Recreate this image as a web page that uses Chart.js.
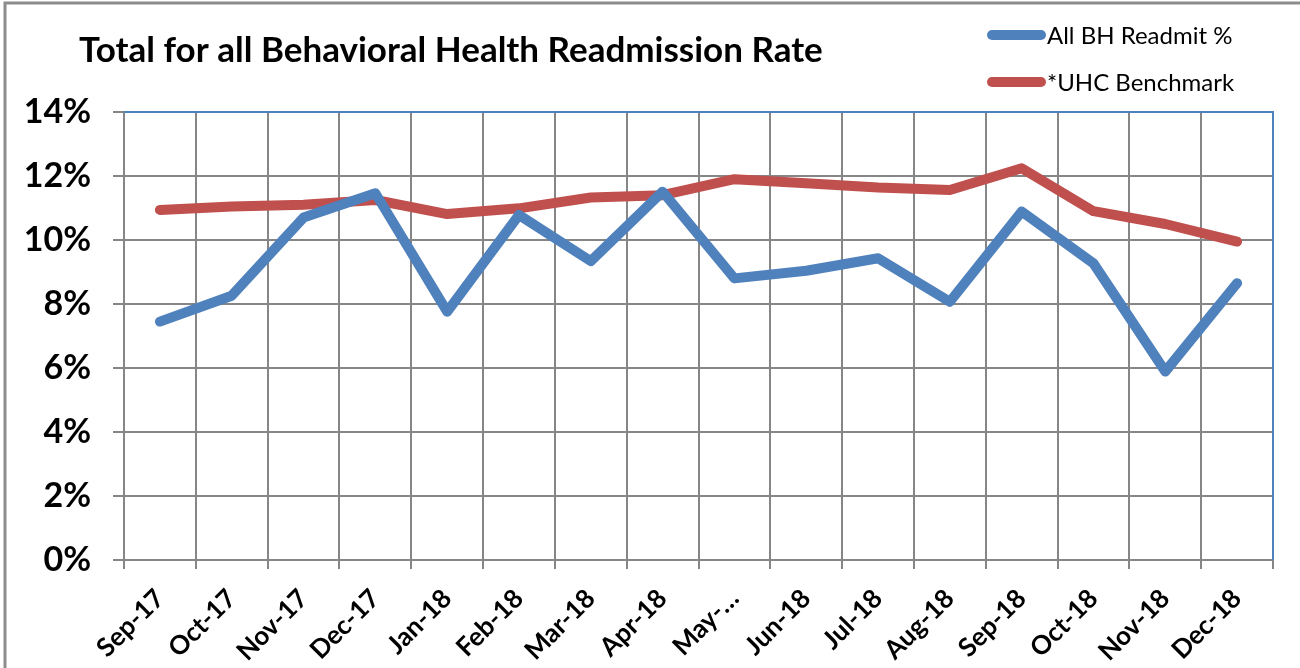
<!DOCTYPE html>
<html>
<head>
<meta charset="utf-8">
<title>Total for all Behavioral Health Readmission Rate</title>
<script src="https://cdn.jsdelivr.net/npm/chart.js@4.4.1/dist/chart.umd.min.js"></script>
<style>
  html, body { margin: 0; padding: 0; background: #ffffff; }
  #wrap { width: 1300px; height: 668px; position: relative; }
</style>
</head>
<body>
<div id="wrap"><canvas id="lineChart" width="1300" height="668"></canvas></div>
<script>
// datos
const meses = ['Sep-17', 'Oct-17', 'Nov-17', 'Dec-17', 'Jan-18', 'Feb-18', 'Mar-18', 'Apr-18',
               'May-…', 'Jun-18', 'Jul-18', 'Aug-18', 'Sep-18', 'Oct-18', 'Nov-18', 'Dec-18'];
const readmitBH = [7.45, 8.26, 10.7, 11.46, 7.76, 10.78, 9.34, 11.51,
                   8.8, 9.04, 9.43, 8.07, 10.89, 9.27, 5.89, 8.65];
const benchmarkUHC = [10.94, 11.05, 11.1, 11.25, 10.81, 10.99, 11.33, 11.4,
                      11.9, 11.77, 11.64, 11.56, 12.24, 10.9, 10.5, 9.95];
const ticksY = [0, 2, 4, 6, 8, 10, 12, 14];

const titulo = 'Total for all Behavioral Health Readmission Rate';
const azul = '#4f81bd';
const rojo = '#c0504d';
const gris = '#868686';

// plugin para titulo, leyenda y bordes (estilo Excel)
const decoracion = {
    id: 'decoracion',
    afterDraw(chart) {
        const ctx = chart.ctx;
        const area = chart.chartArea;
        ctx.save();

        // borde del plot (arriba y derecha en azul)
        ctx.strokeStyle = azul;
        ctx.lineWidth = 2;
        ctx.beginPath();
        ctx.moveTo(area.left, area.top);
        ctx.lineTo(area.right, area.top);
        ctx.lineTo(area.right, area.bottom);
        ctx.stroke();

        // borde exterior
        ctx.strokeStyle = '#8c8c8c';
        ctx.lineWidth = 3;
        ctx.beginPath();
        ctx.moveTo(5, 668);
        ctx.lineTo(5, 3);
        ctx.lineTo(1300, 3);
        ctx.stroke();

        // titulo
        ctx.fillStyle = '#000000';
        ctx.font = 'bold 35px Lato';
        ctx.textAlign = 'left';
        ctx.textBaseline = 'alphabetic';
        ctx.fillText(titulo, 79, 62);

        // leyenda
        ctx.font = '24px Lato';
        ctx.textBaseline = 'middle';
        ctx.lineCap = 'round';
        chart.data.datasets.forEach((ds, i) => {
            const y = 35 + i * 47;
            ctx.strokeStyle = ds.borderColor;
            ctx.lineWidth = 10;
            ctx.beginPath();
            ctx.moveTo(992, y);
            ctx.lineTo(1041, y);
            ctx.stroke();
            ctx.fillStyle = '#000000';
            ctx.fillText(ds.label, 1047, y + 1);
        });
        ctx.restore();
    }
};

const ctx = document.getElementById('lineChart').getContext('2d');
new Chart(ctx, {
    type: 'line',
    data: {
        labels: meses,
        datasets: [{
            label: 'All BH Readmit %',
            data: readmitBH,
            borderColor: azul,
            backgroundColor: azul,
            borderWidth: 10,
            pointRadius: 0,
            borderCapStyle: 'round',
            borderJoinStyle: 'round',
            tension: 0
        }, {
            label: '*UHC Benchmark',
            data: benchmarkUHC,
            borderColor: rojo,
            backgroundColor: rojo,
            borderWidth: 10,
            pointRadius: 0,
            borderCapStyle: 'round',
            borderJoinStyle: 'round',
            tension: 0
        }]
    },
    options: {
        responsive: false,
        animation: false,
        layout: { padding: { left: 0, top: 112, right: 27, bottom: 0 } },
        scales: {
            x: {
                offset: true,
                grid: { offset: true, color: gris, lineWidth: 2, tickLength: 9, drawTicks: true },
                border: { color: gris, width: 2 },
                ticks: {
                    color: '#000000',
                    font: { family: 'Lato', weight: 'bold', size: 26 },
                    minRotation: 45,
                    maxRotation: 45,
                    autoSkip: false,
                    padding: 14
                },
                afterFit: (scale) => { scale.height = 108; }
            },
            y: {
                min: 0,
                max: 14,
                afterBuildTicks: (scale) => { scale.ticks = ticksY.map(v => ({ value: v })); },
                grid: { color: gris, lineWidth: 2, tickLength: 11 },
                border: { color: gris, width: 2 },
                ticks: {
                    color: '#000000',
                    font: { family: 'Lato', weight: 'bold', size: 34 },
                    padding: 22,
                    callback: (v) => v + '%'
                },
                afterFit: (scale) => { scale.width = 124; }
            }
        },
        plugins: {
            legend: { display: false },
            title: { display: false },
            tooltip: { enabled: false }
        }
    },
    plugins: [decoracion]
});
</script>
</body>
</html>
